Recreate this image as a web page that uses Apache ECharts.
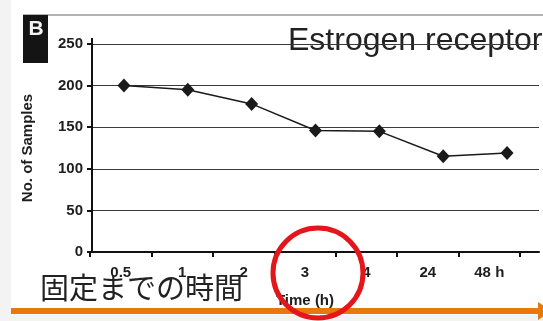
<!DOCTYPE html>
<html>
<head>
<meta charset="utf-8">
<script src="https://cdn.jsdelivr.net/npm/echarts@6/dist/echarts.min.js"></script>
<style>
  html, body { margin: 0; padding: 0; background: #f3f3f3; }
  #chart { width: 543px; height: 321px; }
</style>
</head>
<body>
<div id="chart"></div>
<script>
// Time to fixation (h) and number of samples positive for estrogen receptor
const timeLabels = ['0.5', '1', '2', '3', '4', '24', '48 h'];
const sampleCounts = [200, 195, 178, 146, 145, 115, 119];
const yTicks = [0, 50, 100, 150, 200, 250];

const chart = echarts.init(document.getElementById('chart'));
const boldFont = '"Liberation Sans", Arial, sans-serif';

chart.setOption({
  backgroundColor: '#f3f3f3',
  animation: false,
  grid: [
    { left: 92, top: 44, width: 447, height: 208 },
    { left: 90, top: 44, width: 430, height: 208 }
  ],
  xAxis: [
    {
      type: 'category', gridIndex: 0, data: timeLabels, boundaryGap: true,
      axisLine: { lineStyle: { color: '#111', width: 2 } },
      axisTick: { show: false }, axisLabel: { show: false }, splitLine: { show: false }
    },
    {
      type: 'category', gridIndex: 1, data: timeLabels, boundaryGap: true,
      axisLine: { show: false },
      axisTick: { show: true, length: 5, lineStyle: { color: '#111', width: 2 } },
      axisLabel: { color: '#1e1e1e', fontFamily: boldFont, fontWeight: 'bold', fontSize: 15, margin: 13 },
      name: 'Time (h)', nameLocation: 'middle', nameGap: 41,
      nameTextStyle: { color: '#1e1e1e', fontFamily: boldFont, fontWeight: 'bold', fontSize: 15 }
    }
  ],
  yAxis: [
    {
      type: 'value', gridIndex: 0, min: yTicks[0], max: yTicks[yTicks.length - 1], interval: yTicks[1] - yTicks[0],
      axisLine: { show: true, lineStyle: { color: '#111', width: 2 } },
      axisTick: { show: true, length: 5, lineStyle: { color: '#111', width: 2 } },
      axisLabel: { color: '#1e1e1e', fontFamily: boldFont, fontWeight: 'bold', fontSize: 15, margin: 9 },
      splitLine: { show: true, lineStyle: { color: '#3a3a3a', width: 1 } },
      name: 'No. of Samples', nameLocation: 'middle', nameGap: 57,
      nameTextStyle: { color: '#1e1e1e', fontFamily: boldFont, fontWeight: 'bold', fontSize: 15 }
    },
    {
      type: 'value', gridIndex: 1, min: yTicks[0], max: yTicks[yTicks.length - 1], show: false
    }
  ],
  series: [{
    type: 'line',
    xAxisIndex: 0, yAxisIndex: 0,
    data: sampleCounts,
    symbol: 'diamond', symbolSize: [13, 14],
    lineStyle: { color: '#1a1a1a', width: 1.5 },
    itemStyle: { color: '#1a1a1a' },
    z: 5
  }],
  graphic: [
    { type: 'rect', z: -10, shape: { x: 11, y: 0, width: 532, height: 315 }, style: { fill: '#ffffff' } },
    { type: 'line', z: -5, shape: { x1: 23, y1: 15, x2: 543, y2: 15 }, style: { stroke: '#9a9a9a', lineWidth: 1.5 } },
    { type: 'line', z: -5, shape: { x1: 92, y1: 38, x2: 92, y2: 45 }, style: { stroke: '#111', lineWidth: 2 } },
    { type: 'rect', shape: { x: 23, y: 15, width: 25, height: 48 }, style: { fill: '#141414' } },
    { type: 'text', style: { x: 36, y: 29, text: 'B', fill: '#f4f4f4', font: 'bold 21px "Liberation Sans", Arial, sans-serif', textAlign: 'center', textVerticalAlign: 'middle' } },
    { type: 'text', z: -2, style: { x: 288, y: 41, text: 'Estrogen receptor', fill: '#222', font: '32px "Liberation Sans", Arial, sans-serif', textAlign: 'left', textVerticalAlign: 'middle' } },
    { type: 'text', z: 20, style: { x: 40, y: 288, text: '固定までの時間', fill: '#222', font: '29px "Noto Sans CJK JP", sans-serif', textAlign: 'left', textVerticalAlign: 'middle' } },
    { type: 'line', z: 20, shape: { x1: 11, y1: 311, x2: 540, y2: 311 }, style: { stroke: '#e8780c', lineWidth: 6 } },
    { type: 'polygon', z: 20, shape: { points: [[538, 302], [552, 311], [538, 320]] }, style: { fill: '#e8780c' } },
    { type: 'circle', z: 30, shape: { cx: 318, cy: 273, r: 45 }, style: { fill: 'none', stroke: '#e3161b', lineWidth: 5 } }
  ]
});
</script>
</body>
</html>
